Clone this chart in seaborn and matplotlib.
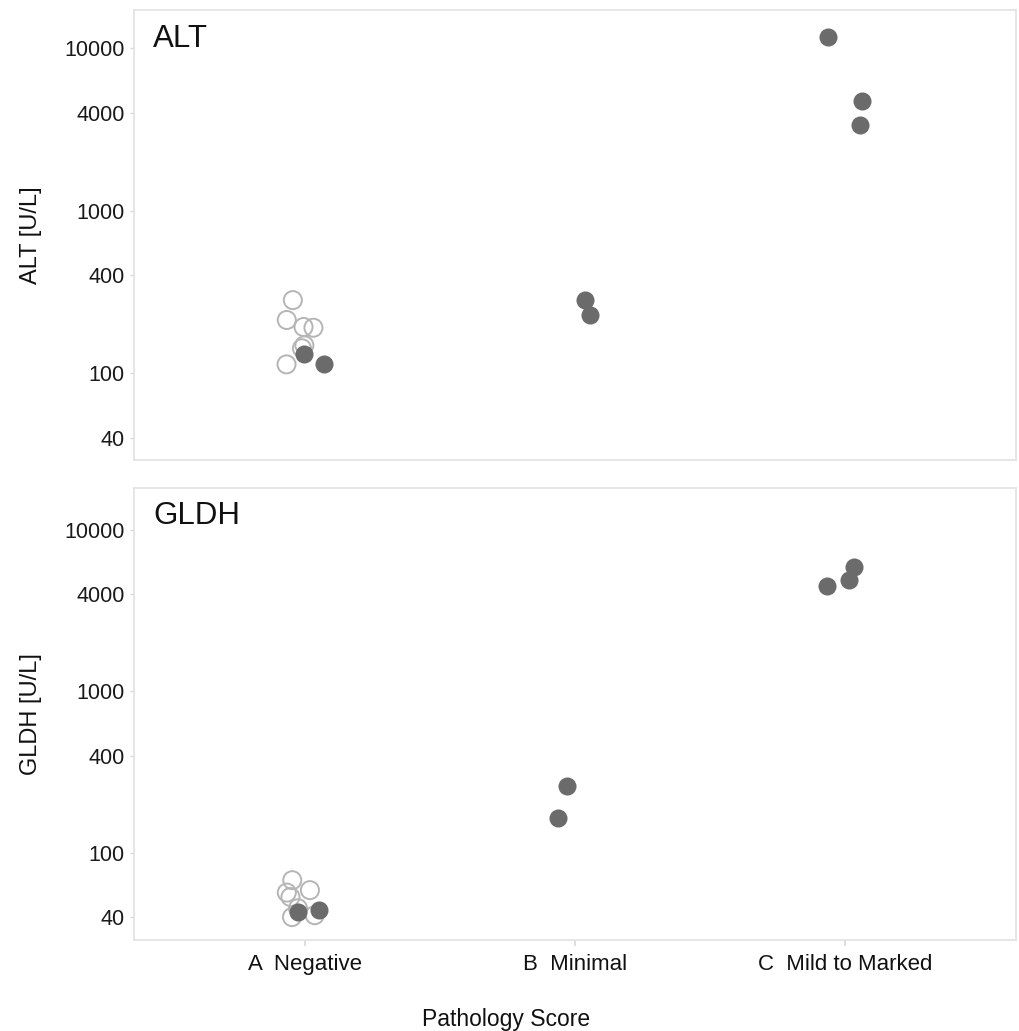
import numpy as np
import pandas as pd
import matplotlib
matplotlib.use("Agg")
import matplotlib.pyplot as plt
import matplotlib.ticker as mticker
import seaborn as sns

categories = ["A  Negative", "B  Minimal", "C  Mild to Marked"]

# ALT values
alt_open_A = [281, 212, 192, 190, 142, 148, 113]
alt_filled_A = [131, 113]
alt_filled_B = [228, 281]
alt_filled_C = [11700, 4720, 3360]

# GLDH values
gldh_open_A = [68, 59, 57, 53.5, 45.6, 40.2, 41.3]
gldh_filled_A = [44.4, 43.1]
gldh_filled_B = [260, 165]
gldh_filled_C = [4500, 5900, 4900]

yticks = [40, 100, 400, 1000, 4000, 10000]

sns.set_theme(style="white")
plt.rcParams['font.family'] = ['Liberation Sans', 'DejaVu Sans']

def make_frames(open_A, fA, fB, fC):
    op = pd.DataFrame({"cat": [categories[0]] * len(open_A), "val": open_A})
    fl = pd.DataFrame({"cat": [categories[0]] * len(fA) + [categories[1]] * len(fB) + [categories[2]] * len(fC),
                       "val": fA + fB + fC})
    return op, fl

fig = plt.figure(figsize=(10.19, 10.31), dpi=100)
ax1 = fig.add_axes([0.1315, 0.554, 0.8655, 0.436])
ax2 = fig.add_axes([0.1315, 0.088, 0.8655, 0.439])

panels = [
    (ax1, "ALT", "ALT [U/L]", make_frames(alt_open_A, alt_filled_A, alt_filled_B, alt_filled_C), (29.2, 17100)),
    (ax2, "GLDH", "GLDH [U/L]", make_frames(gldh_open_A, gldh_filled_A, gldh_filled_B, gldh_filled_C), (28.9, 18200)),
]

np.random.seed(11)
for ax, title, ylab, (op, fl), ylim in panels:
    sns.stripplot(data=op, x="cat", y="val", order=categories, ax=ax, jitter=0.07,
                  marker="o", s=13, facecolor="none", edgecolor="#b5b5b5", linewidth=1.4,
                  color="none", zorder=2)
    sns.stripplot(data=fl, x="cat", y="val", order=categories, ax=ax, jitter=0.08,
                  marker="o", s=13, color="#6b6b6b", edgecolor="#6b6b6b", linewidth=0, zorder=3)
    ax.set_yscale("log")
    ax.set_ylim(*ylim)
    ax.set_xlim(-0.633, 2.633)
    ax.yaxis.set_major_locator(mticker.FixedLocator(yticks))
    ax.yaxis.set_major_formatter(mticker.FixedFormatter([str(t) for t in yticks]))
    ax.yaxis.set_minor_locator(mticker.NullLocator())
    ax.tick_params(axis="y", labelsize=15.5, length=3, color="#d8d8d8", width=1, left=True, labelcolor="#1a1a1a")
    ax.set_ylabel(ylab, fontsize=17, labelpad=16, color="#111111")
    ax.set_xlabel("")
    ax.text(0.022, 0.97, title, transform=ax.transAxes, fontsize=22.5, va="top", ha="left", color="#111111")
    for sp in ax.spines.values():
        sp.set_color("#e2e2e2")
        sp.set_linewidth(1.2)

ax1.set_xticklabels([])
ax1.tick_params(axis="x", length=0)
ax2.tick_params(axis="x", labelsize=16, length=4, color="#d8d8d8", bottom=True, pad=6, labelcolor="#111111")
fig.text(0.497, 0.0, "Pathology Score", ha="center", va="bottom", fontsize=16.5, color="#111111")

fig.savefig("out.png", dpi=100)
